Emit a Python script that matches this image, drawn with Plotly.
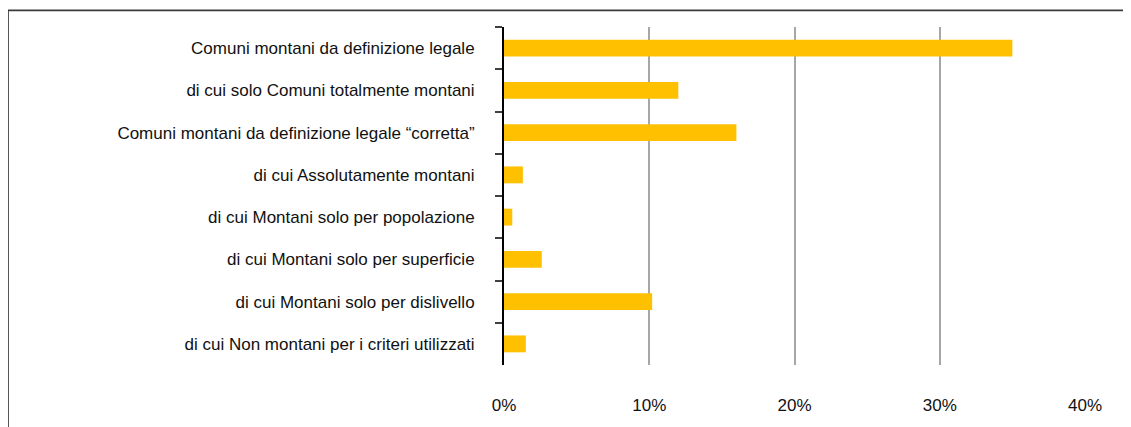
"""Comuni montani — quota percentuale per definizione (barre orizzontali)."""
import plotly.graph_objects as go

CATEGORIES = [
    "Comuni montani da definizione legale",
    "di cui solo Comuni totalmente montani",
    "Comuni montani da definizione legale \u201ccorretta\u201d",
    "di cui Assolutamente montani",
    "di cui Montani solo per popolazione",
    "di cui Montani solo per superficie",
    "di cui Montani solo per dislivello",
    "di cui Non montani per i criteri utilizzati",
]
SHARES = [0.350, 0.120, 0.160, 0.013, 0.0057, 0.026, 0.102, 0.015]
X_TICKS = [0, 0.1, 0.2, 0.3, 0.4]
X_TICK_LABELS = ["0%", "10%", "20%", "30%", "40%"]

BAR_COLOR = "#FFC000"
FONT = "Liberation Sans, Arial, sans-serif"
FONT_SIZE = 17

fig = go.Figure()
fig.add_trace(go.Bar(
    x=SHARES, y=CATEGORIES, orientation="h",
    marker=dict(color=BAR_COLOR, line=dict(width=0)),
    showlegend=False,
))

n = len(CATEGORIES)
boundaries = [i - 0.5 for i in range(n + 1)]

# page body has an 8px margin, so the figure is sized to fill the rest
fig.update_layout(
    width=1123, height=419,
    margin=dict(l=496, r=46, t=19, b=54),
    paper_bgcolor="white", plot_bgcolor="white",
    font=dict(family=FONT, size=FONT_SIZE, color="#111111"),
    bargap=0.6,
    xaxis=dict(
        range=[0, 0.4], tickvals=X_TICKS, ticktext=X_TICK_LABELS,
        showgrid=True, gridcolor="#A6A6A6", gridwidth=1.5,
        zeroline=False, showline=False, ticks="",
        ticklabelstandoff=28,
        tickfont=dict(size=FONT_SIZE),
    ),
    yaxis=dict(
        type="category", categoryorder="array", categoryarray=CATEGORIES,
        autorange="reversed",
        showline=True, linecolor="#000000", linewidth=2,
        ticks="outside", tickson="boundaries", ticklen=7,
        tickwidth=2, tickcolor="#404040",
        ticklabelstandoff=24,
        showgrid=False, zeroline=False,
        tickfont=dict(size=FONT_SIZE),
    ),
    # second axis only to draw the inner half of the cross ticks
    yaxis2=dict(
        overlaying="y", anchor="x", side="left",
        range=[n - 0.5, -0.5], tickvals=boundaries,
        ticks="inside", ticklen=6, tickwidth=2, tickcolor="#404040",
        showticklabels=False, showgrid=False, zeroline=False, showline=False,
    ),
)

# outer frame of the chart (left and top edges visible)
fig.add_shape(
    type="rect", xref="paper", yref="paper",
    x0=-0.8537, x1=1.3, y0=-0.4, y1=1.049,
    line=dict(color="#3A3A3A", width=1.7),
    fillcolor="rgba(0,0,0,0)", layer="below",
)

fig.write_html("out.html")
